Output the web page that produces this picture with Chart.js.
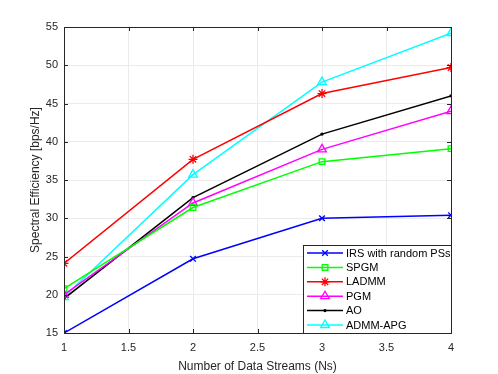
<!DOCTYPE html>
<html>
<head>
<meta charset="utf-8">
<script src="https://cdn.jsdelivr.net/npm/chart.js@4"></script>
<style>
  html, body { margin: 0; padding: 0; background: #fff; }
  #wrap { width: 498px; height: 374px; position: relative; }
</style>
</head>
<body>
<div id="wrap"><canvas id="chart-se"></canvas></div>
<script>
// data
const streams = [1, 2, 3, 4];
const irsRandom = [15.0, 24.7, 30.0, 30.4];
const spgm = [20.8, 31.4, 37.4, 39.1];
const ladmm = [24.1, 37.7, 46.3, 49.7];
const pgm = [20.0, 32.0, 39.0, 44.0];
const ao = [19.5, 32.7, 41.0, 46.0];
const admmApg = [19.7, 35.7, 47.8, 54.2];
const xTicks = [1, 1.5, 2, 2.5, 3, 3.5, 4];
const yTicks = [15, 20, 25, 30, 35, 40, 45, 50, 55];

const FONT = 'Liberation Sans, Arial, sans-serif';
const AXIS_COLOR = '#262626';
const GRID_COLOR = '#ebebeb';

const pts = (ys) => streams.map((x, i) => ({ x: x, y: ys[i] }));

function series(label, ys, color, style, radius, fill) {
  return {
    label: label,
    data: pts(ys),
    borderColor: color,
    backgroundColor: fill ? color : 'rgba(0,0,0,0)',
    borderWidth: 1.5,
    pointStyle: style,
    pointRadius: radius,
    pointBorderColor: color,
    pointBackgroundColor: fill ? color : 'rgba(0,0,0,0)',
    pointBorderWidth: 1.3,
    tension: 0,
  };
}

const datasets = [
  series('IRS with random PSs', irsRandom, '#0000ff', 'crossRot', 4, false),
  series('SPGM', spgm, '#00ff00', 'rect', 4, false),
  series('LADMM', ladmm, '#ff0000', 'star', 4.5, true),
  series('PGM', pgm, '#ff00ff', 'triangle', 5, false),
  series('AO', ao, '#000000', 'circle', 1, true),
  series('ADMM-APG', admmApg, '#00ffff', 'triangle', 5, false),
];

// box, inward ticks and the legend in the lower right corner
const frame = {
  id: 'frame',
  afterDatasetsDraw(chart) {
    const { ctx, chartArea: a, scales } = chart;
    ctx.save();
    ctx.strokeStyle = AXIS_COLOR;
    ctx.lineWidth = 1;
    xTicks.forEach((t) => {
      const x = Math.round(scales.x.getPixelForValue(t)) + 0.5;
      ctx.beginPath();
      ctx.moveTo(x, a.bottom); ctx.lineTo(x, a.bottom - 4);
      ctx.moveTo(x, a.top); ctx.lineTo(x, a.top + 4);
      ctx.stroke();
    });
    yTicks.forEach((t) => {
      const y = Math.round(scales.y.getPixelForValue(t)) + 0.5;
      ctx.beginPath();
      ctx.moveTo(a.left, y); ctx.lineTo(a.left + 4, y);
      ctx.moveTo(a.right, y); ctx.lineTo(a.right - 4, y);
      ctx.stroke();
    });
    ctx.strokeRect(Math.round(a.left) + 0.5, Math.round(a.top) + 0.5,
      Math.round(a.right - a.left), Math.round(a.bottom - a.top));

    // legend
    const lx = 303, ly = 245, lw = a.right - 303, lh = a.bottom - 245;
    ctx.fillStyle = '#fff';
    ctx.fillRect(lx, ly, lw, lh);
    ctx.strokeRect(lx + 0.5, ly + 0.5, lw, lh);
    ctx.font = '11px ' + FONT;
    ctx.textBaseline = 'middle';
    chart.data.datasets.forEach((ds, i) => {
      const y = ly + 8 + i * 14.4;
      ctx.strokeStyle = ds.borderColor;
      ctx.lineWidth = ds.borderWidth;
      ctx.beginPath();
      ctx.moveTo(307, y); ctx.lineTo(343, y);
      ctx.stroke();
      ctx.lineWidth = ds.pointBorderWidth;
      ctx.fillStyle = ds.pointBackgroundColor;
      Chart.helpers.drawPoint(ctx, {
        pointStyle: ds.pointStyle, radius: ds.pointRadius, rotation: 0, borderWidth: ds.pointBorderWidth,
      }, 325, y);
      ctx.fillStyle = '#000';
      ctx.fillText(ds.label, 346, y + 0.5);
    });
    ctx.restore();
  },
};

new Chart(document.getElementById('chart-se'), {
  type: 'line',
  data: { datasets: datasets },
  options: {
    responsive: true,
    maintainAspectRatio: false,
    animation: false,
    layout: { padding: { top: 27, right: 47, left: 28, bottom: 0 } },
    plugins: { legend: { display: false }, tooltip: { enabled: false } },
    scales: {
      x: {
        type: 'linear',
        min: 1,
        max: 4,
        afterBuildTicks: (s) => { s.ticks = xTicks.map((v) => ({ value: v })); },
        afterFit: (s) => { s.height = 41; },
        grid: { color: GRID_COLOR, drawTicks: false },
        border: { display: false },
        ticks: { color: AXIS_COLOR, font: { family: FONT, size: 11 }, padding: 8, maxRotation: 0,
          callback: (v) => String(v) },
        title: { display: true, text: 'Number of Data Streams (Ns)', color: AXIS_COLOR,
          font: { family: FONT, size: 12 }, padding: { top: 0, bottom: 0 } },
      },
      y: {
        min: 15,
        max: 55,
        afterBuildTicks: (s) => { s.ticks = yTicks.map((v) => ({ value: v })); },
        afterFit: (s) => { s.width = 36; },
        grid: { color: GRID_COLOR, drawTicks: false },
        border: { display: false },
        ticks: { color: AXIS_COLOR, font: { family: FONT, size: 11 }, padding: 6,
          callback: (v) => String(v) },
        title: { display: true, text: 'Spectral Efficiency [bps/Hz]', color: AXIS_COLOR,
          font: { family: FONT, size: 12 }, padding: { top: 0, bottom: 0 } },
      },
    },
  },
  plugins: [frame],
});
</script>
</body>
</html>
